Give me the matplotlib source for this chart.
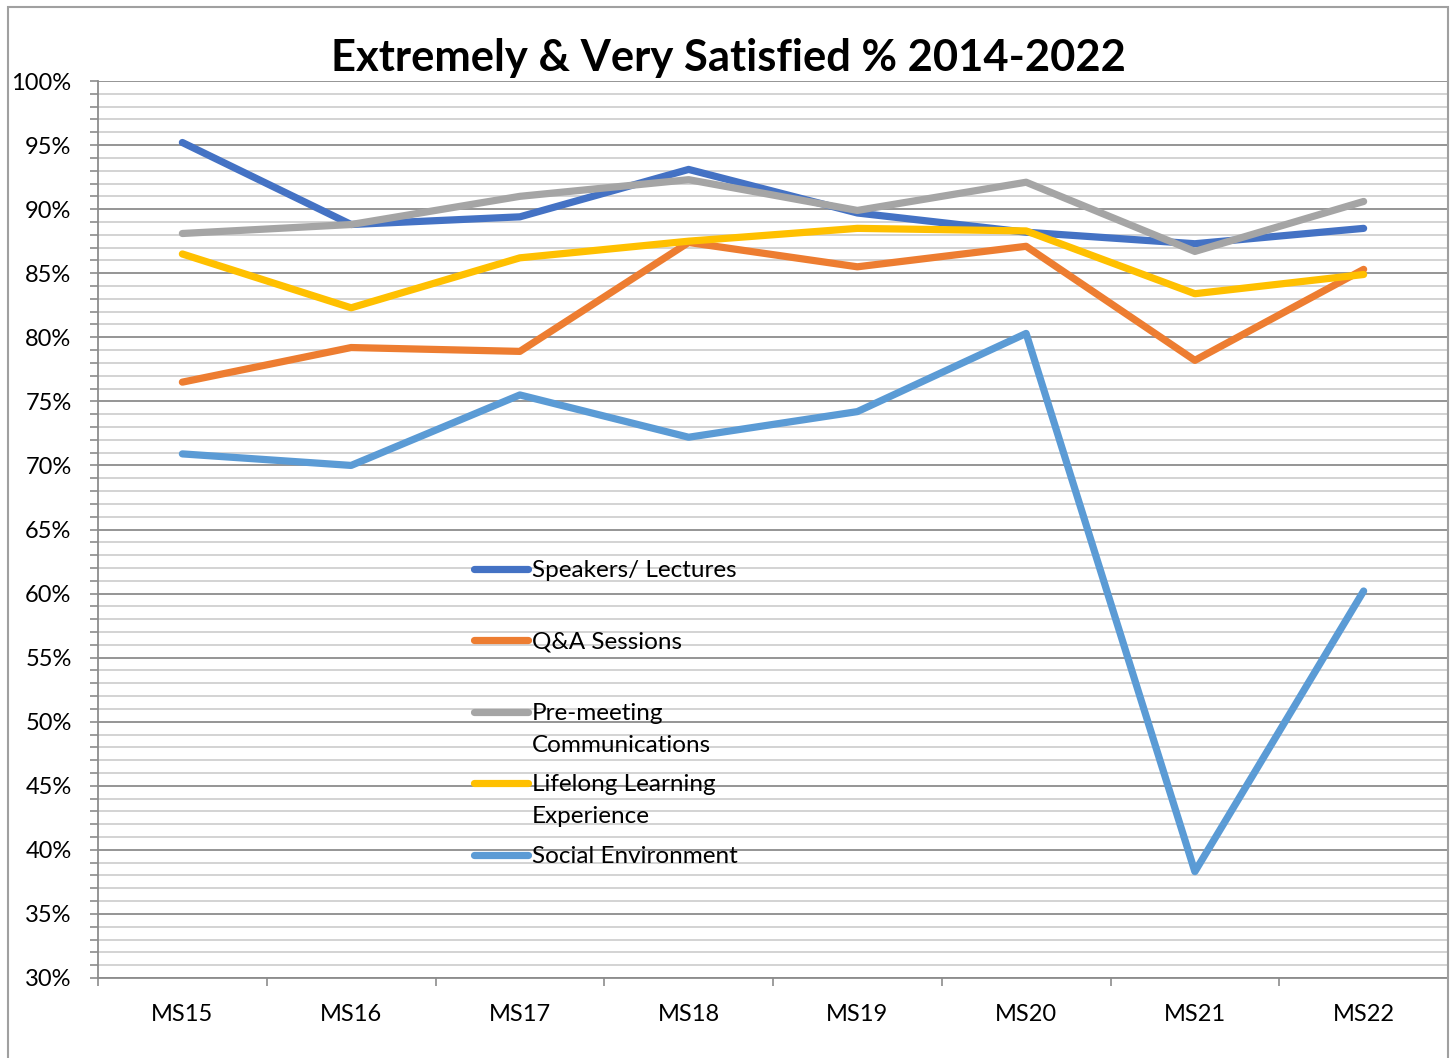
import numpy as np
import matplotlib.pyplot as plt
from matplotlib.patches import Rectangle
from matplotlib.ticker import FixedLocator, MultipleLocator, FuncFormatter

plt.rcParams["font.family"] = ["Lato", "DejaVu Sans"]

categories = ["MS15", "MS16", "MS17", "MS18", "MS19", "MS20", "MS21", "MS22"]

speakers = [95.2, 88.8, 89.4, 93.1, 89.7, 88.2, 87.3, 88.5]
qa_sessions = [76.5, 79.2, 78.9, 87.4, 85.5, 87.1, 78.2, 85.3]
pre_meeting = [88.1, 88.8, 91.0, 92.3, 89.9, 92.1, 86.7, 90.6]
lifelong = [86.5, 82.3, 86.2, 87.5, 88.5, 88.3, 83.4, 84.9]
social = [70.9, 70.0, 75.5, 72.2, 74.2, 80.3, 38.3, 60.2]

series = [
    ("Speakers/ Lectures", speakers, "#4472C4"),
    ("Q&A Sessions", qa_sessions, "#ED7D31"),
    ("Pre-meeting\nCommunications", pre_meeting, "#A5A5A5"),
    ("Lifelong Learning\nExperience", lifelong, "#FFC000"),
    ("Social Environment", social, "#5B9BD5"),
]

W, H = 1451, 1058
fig = plt.figure(figsize=(W / 100, H / 100), dpi=100)
ax = fig.add_axes([98 / W, 1 - 978 / H, 1350 / W, 897 / H])

x = np.arange(len(categories))
for label, vals, color in series:
    ax.plot(x, vals, color=color, linewidth=5.2,
            solid_capstyle="round", solid_joinstyle="round", zorder=3)

ax.set_xlim(-0.5, len(categories) - 0.5)
ax.set_ylim(30, 100)

# gridlines: major every 5%, minor every 1%
ax.yaxis.set_major_locator(MultipleLocator(5))
ax.yaxis.set_minor_locator(MultipleLocator(1))
ax.yaxis.set_major_formatter(FuncFormatter(lambda v, p: f"{v:.0f}%"))
ax.grid(which="major", axis="y", color="#8c8c8c", linewidth=1.3, zorder=1)
ax.grid(which="minor", axis="y", color="#d0d0d0", linewidth=1.3, zorder=1)

ax.xaxis.set_major_locator(FixedLocator(np.arange(-0.5, len(categories), 1.0)))
ax.xaxis.set_major_formatter(FuncFormatter(lambda v, p: ""))
ax.set_xticks(x, minor=True)
ax.set_xticklabels(categories, minor=True)

ax.tick_params(axis="x", which="major", direction="out", length=6, width=1.2, color="#8c8c8c")
ax.tick_params(axis="x", which="minor", length=0, pad=19, labelsize=17)
ax.tick_params(axis="y", which="both", direction="out", length=6, width=1.2, color="#8c8c8c",
               pad=13, labelsize=17)

for side in ["top", "right"]:
    ax.spines[side].set_visible(False)
for side in ["left", "bottom"]:
    ax.spines[side].set_color("#8c8c8c")
    ax.spines[side].set_linewidth(1.3)

# legend drawn as in the original: handle on first text line
leg_x0, leg_x1, leg_tx = 0.2785, 0.3185, 0.3215
leg_y = [0.456, 0.3768, 0.2965, 0.2174, 0.1371]
for (label, vals, color), ly in zip(series, leg_y):
    ax.plot([leg_x0, leg_x1], [ly, ly], transform=ax.transAxes, color=color,
            linewidth=5.2, solid_capstyle="round", clip_on=False, zorder=4)
    ax.text(leg_tx, ly + 0.010, label, transform=ax.transAxes, fontsize=17.5,
            va="top", ha="left", linespacing=1.65, zorder=4)

fig.text(0.502, 1 - 58 / H, "Extremely & Very Satisfied % 2014-2022",
         fontsize=31.3, fontweight="bold", ha="center", va="center")

fig.patches.append(Rectangle((8 / W, -0.05), 1440 / W, 1 - 7 / H + 0.05,
                             transform=fig.transFigure, fill=False,
                             edgecolor="#a0a0a0", linewidth=1.5))

fig.savefig("out.png", dpi=100)
